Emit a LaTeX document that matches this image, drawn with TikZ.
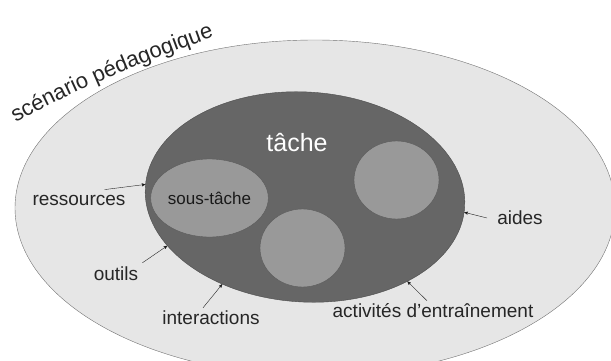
\documentclass[tikz,border=0pt]{standalone}
\usepackage{fontspec}
\setmainfont{Liberation Sans}
\usetikzlibrary{arrows}
\usetikzlibrary{shapes.geometric}
\usetikzlibrary{decorations.text}
\definecolor{grisclair}{HTML}{E6E6E6}
\definecolor{grismoyen}{HTML}{999999}
\definecolor{grisfonce}{HTML}{666666}
\tikzset{
    zone/.style = {ellipse, inner sep=0pt},
    zone_scen/.style = {zone, draw=black!55, fill=grisclair,
        minimum width=600pt, minimum height=336pt},% scenario pedagogique
    zone_tache/.style = {zone, draw=black!70, fill=grisfonce, rotate=-3.5,
        minimum width=320pt, minimum height=210pt},% tache
    zone_st/.style = {zone, draw=black!65, fill=grismoyen, text=black!90,
        font=\fontsize{17}{17}\selectfont,
        minimum width=85pt, minimum height=78pt},% sous-tache
    etiq/.style = {inner sep=1pt, text=black!85, font=\fontsize{19}{19}\selectfont},% etiquette
    fleche/.style = {->, thin, draw=black!85},
}
\begin{document}
\begin{tikzpicture}[>=stealth', x=1pt, y=-1pt]
\path [use as bounding box, clip] (0,0) rectangle (611,361);
\node [zone_scen] (scenario) at (315,208) {};
\path [decorate, decoration={text along path, text align=center, text color=black!85,
    text={|\fontsize{22}{22}\selectfont|scénario pédagogique}}]
    (14,124) .. controls (74,89) and (149,60) .. (216,36);
\node [zone_tache] (tache) at (305,197) {};
\node [white, font=\fontsize{25}{25}\selectfont] (titre) at (297,143) {tâche};
\node [zone_st] (st1) at (209.5,198) {sous-tâche};
\node [zone_st] (st2) at (302.5,248) {};
\node [zone_st] (st3) at (396.5,180) {};
% etiquettes
\node [etiq] (ressources) at (79,200) {ressources};
\node [etiq] (outils) at (116,274) {outils};
\node [etiq] (interactions) at (211,318) {interactions};
\node [etiq] (aides) at (520,218) {aides};
\node [etiq] (activites) at (433,311) {activités d’entraînement};
% fleches
\draw [fleche] ([xshift=-22pt,yshift=4pt]ressources.north east) -- (tache.179);
\draw [fleche] ([xshift=3pt,yshift=3pt]outils.north east) -- (tache.203);
\draw [fleche] ([xshift=-8pt,yshift=2pt]interactions.north) -- (tache.230);
\draw [fleche] ([xshift=-9pt]aides.west) -- (tache.358);
\draw [fleche] ([xshift=-6pt,yshift=2pt]activites.north) -- (tache.324);
\end{tikzpicture}
\end{document}
